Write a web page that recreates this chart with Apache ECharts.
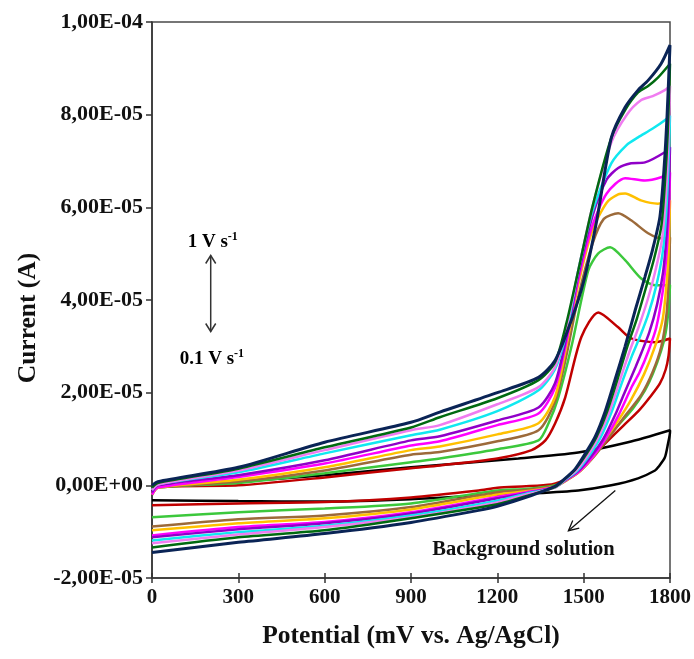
<!DOCTYPE html>
<html><head><meta charset="utf-8">
<script src="https://cdn.jsdelivr.net/npm/echarts@6/dist/echarts.min.js"></script>
<style>html,body{margin:0;padding:0;background:#fff}#c{width:694px;height:659px}</style>
</head><body><div id="c"></div>
<script>
// Current values in units of 1e-5 A, potential in mV
const xTicks = [0,300,600,900,1200,1500,1800];
const scanRates = ['0.1','0.2','0.3','0.4','0.5','0.6','0.7','0.8','0.9','1.0'];

const bg_fwd = [[0,-0.1],[20,-0.02],[300,0.08],[600,0.22],[900,0.39],[1273,0.58],[1481,0.71],[1654,0.93],[1800,1.19]];
const bg_rev = [[1800,1.15],[1793,0.9],[1782,0.6],[1760,0.4],[1748,0.32],[1689,0.15],[1596,0.0],[1481,-0.11],[1332,-0.17],[1200,-0.2],[900,-0.3],[600,-0.35],[300,-0.34],[0,-0.32]];

const r01_fwd = [[0,-0.15],[20,-0.03],[300,0.0],[600,0.17],[900,0.37],[1000,0.43],[1200,0.58],[1319,0.76],[1367,0.97],[1401,1.34],[1436,1.9],[1492,3.2],[1551,3.73],[1620,3.41],[1665,3.17],[1748,3.09],[1800,3.17]];
const r01_rev = [[1800,3.17],[1795,2.8],[1785,2.5],[1765,2.2],[1730,1.9],[1690,1.6],[1640,1.3],[1590,1.0],[1545,0.72],[1500,0.42],[1460,0.2],[1420,0.08],[1388,0.02],[1300,-0.02],[1200,-0.05],[1135,-0.11],[900,-0.26],[600,-0.36],[300,-0.39],[0,-0.43]];

const r02_fwd = [[0,-0.2],[20,-0.05],[300,0.05],[600,0.26],[900,0.5],[1000,0.58],[1200,0.78],[1343,0.97],[1378,1.34],[1412,1.9],[1457,2.98],[1516,4.64],[1550,5.0],[1592,5.14],[1644,4.86],[1699,4.47],[1748,4.32],[1800,4.32]];
const r02_rev = [[1800,4.32],[1795,3.8],[1785,3.3],[1769,2.9],[1740,2.4],[1713,2.05],[1670,1.65],[1620,1.3],[1570,0.95],[1527,0.65],[1481,0.35],[1445,0.15],[1400,0.0],[1300,-0.08],[1200,-0.11],[900,-0.39],[600,-0.5],[300,-0.58],[0,-0.69]];

const r03_fwd = [[0,-0.2],[20,-0.05],[300,0.08],[600,0.32],[900,0.66],[1000,0.72],[1200,0.95],[1343,1.19],[1400,1.8],[1440,2.8],[1481,4.06],[1530,5.2],[1570,5.75],[1620,5.87],[1665,5.72],[1724,5.44],[1770,5.33],[1800,5.35]];
const r03_rev = [[1800,5.35],[1795,4.4],[1788,3.7],[1770,3.0],[1740,2.45],[1700,1.95],[1644,1.5],[1590,1.05],[1540,0.65],[1490,0.32],[1444,0.12],[1400,-0.02],[1300,-0.1],[1200,-0.15],[900,-0.47],[600,-0.65],[300,-0.73],[0,-0.89]];

const r04_fwd = [[0,-0.2],[20,-0.05],[300,0.12],[600,0.39],[900,0.76],[1000,0.84],[1200,1.1],[1343,1.34],[1400,1.9],[1440,3.0],[1480,4.3],[1530,5.5],[1580,6.1],[1620,6.28],[1644,6.3],[1699,6.15],[1758,6.08],[1800,6.15]];
const r04_rev = [[1800,6.15],[1796,5.2],[1790,4.5],[1775,3.6],[1748,3.0],[1710,2.4],[1665,1.85],[1620,1.4],[1575,1.0],[1530,0.6],[1486,0.3],[1442,0.12],[1400,-0.03],[1300,-0.13],[1200,-0.2],[900,-0.52],[600,-0.71],[300,-0.82],[0,-0.97]];

const r05_fwd = [[0,-0.2],[20,-0.05],[300,0.18],[600,0.47],[900,0.86],[1000,0.95],[1200,1.3],[1343,1.55],[1400,2.1],[1440,3.1],[1480,4.4],[1530,5.6],[1580,6.3],[1644,6.63],[1713,6.58],[1769,6.65],[1800,6.75]];
const r05_rev = [[1800,6.75],[1796,5.9],[1788,5.0],[1775,4.2],[1752,3.4],[1725,2.9],[1695,2.45],[1665,2.1],[1620,1.5],[1575,1.0],[1530,0.6],[1484,0.3],[1440,0.12],[1400,-0.03],[1300,-0.15],[1200,-0.25],[900,-0.58],[600,-0.79],[300,-0.9],[0,-1.08]];

const r06_fwd = [[0,-0.15],[20,0.0],[300,0.22],[600,0.54],[900,0.97],[1000,1.06],[1200,1.4],[1343,1.68],[1400,2.2],[1440,3.2],[1480,4.5],[1530,5.8],[1580,6.6],[1620,6.85],[1665,6.95],[1713,6.97],[1782,7.19],[1800,7.3]];
const r06_rev = [[1800,7.3],[1795,6.2],[1788,5.4],[1776,4.6],[1755,3.9],[1728,3.3],[1700,2.85],[1680,2.55],[1642,2.0],[1608,1.5],[1568,1.0],[1525,0.62],[1480,0.3],[1438,0.12],[1400,-0.04],[1300,-0.17],[1200,-0.28],[900,-0.61],[600,-0.82],[300,-0.95],[0,-1.12]];

const r07_fwd = [[0,-0.1],[20,0.02],[300,0.28],[600,0.69],[900,1.08],[1000,1.2],[1200,1.6],[1343,2.05],[1400,2.5],[1440,3.3],[1480,4.6],[1530,5.9],[1596,6.95],[1650,7.35],[1689,7.51],[1740,7.7],[1782,7.88],[1800,7.98]];
const r07_rev = [[1800,7.98],[1794,6.8],[1786,5.8],[1774,5.0],[1752,4.3],[1725,3.7],[1695,3.2],[1668,2.8],[1632,2.2],[1598,1.6],[1560,1.05],[1520,0.65],[1478,0.32],[1436,0.12],[1400,-0.05],[1300,-0.18],[1200,-0.33],[900,-0.65],[600,-0.87],[300,-1.01],[0,-1.19]];

const r08_fwd = [[0,-0.1],[20,0.02],[300,0.32],[600,0.76],[900,1.19],[1000,1.3],[1200,1.75],[1343,2.12],[1400,2.55],[1440,3.4],[1480,4.6],[1530,6.0],[1596,7.4],[1650,8.0],[1699,8.31],[1740,8.4],[1782,8.53],[1800,8.62]];
const r08_rev = [[1800,8.62],[1793,7.2],[1785,6.2],[1772,5.3],[1748,4.6],[1722,4.0],[1690,3.4],[1660,2.9],[1625,2.25],[1590,1.6],[1552,1.05],[1515,0.66],[1475,0.33],[1434,0.12],[1400,-0.05],[1300,-0.2],[1200,-0.37],[900,-0.69],[600,-0.9],[300,-1.06],[0,-1.25]];

const r09_fwd = [[0,-0.05],[20,0.05],[300,0.36],[600,0.82],[900,1.25],[1000,1.47],[1200,1.88],[1343,2.27],[1400,2.65],[1440,3.5],[1480,4.6],[1530,6.0],[1596,7.5],[1644,8.1],[1689,8.48],[1724,8.62],[1758,8.8],[1800,9.1]];
const r09_rev = [[1800,9.1],[1792,7.6],[1782,6.5],[1770,5.6],[1745,4.9],[1718,4.3],[1685,3.6],[1652,3.0],[1618,2.3],[1582,1.6],[1545,1.05],[1510,0.68],[1472,0.35],[1432,0.12],[1400,-0.04],[1318,-0.2],[1200,-0.41],[900,-0.71],[600,-0.97],[300,-1.12],[0,-1.34]];

const r10_fwd = [[0,0.0],[20,0.08],[300,0.39],[600,0.93],[900,1.36],[1000,1.58],[1200,2.0],[1343,2.33],[1401,2.7],[1457,3.56],[1500,4.4],[1545,5.7],[1596,7.5],[1644,8.16],[1689,8.53],[1724,8.74],[1769,9.1],[1800,9.5]];
const r10_rev = [[1800,9.5],[1790,8.0],[1780,6.9],[1765,5.8],[1740,5.1],[1713,4.5],[1680,3.8],[1644,3.0],[1610,2.3],[1575,1.6],[1540,1.05],[1506,0.69],[1470,0.35],[1430,0.12],[1400,-0.02],[1318,-0.22],[1200,-0.45],[1135,-0.54],[900,-0.8],[600,-1.04],[300,-1.23],[0,-1.45]];

const curves = [
  {name:'Background solution', fwd:bg_fwd, rev:bg_rev, color:'#000000'},
  {name:scanRates[0], fwd:r01_fwd, rev:r01_rev, color:'#C00000'},
  {name:scanRates[1], fwd:r02_fwd, rev:r02_rev, color:'#3CC83C'},
  {name:scanRates[2], fwd:r03_fwd, rev:r03_rev, color:'#9C6A3A'},
  {name:scanRates[3], fwd:r04_fwd, rev:r04_rev, color:'#FFC000'},
  {name:scanRates[4], fwd:r05_fwd, rev:r05_rev, color:'#FF00FF'},
  {name:scanRates[5], fwd:r06_fwd, rev:r06_rev, color:'#9000C8'},
  {name:scanRates[6], fwd:r07_fwd, rev:r07_rev, color:'#10E8F0'},
  {name:scanRates[7], fwd:r08_fwd, rev:r08_rev, color:'#F07CF0'},
  {name:scanRates[8], fwd:r09_fwd, rev:r09_rev, color:'#006A10'},
  {name:scanRates[9], fwd:r10_fwd, rev:r10_rev, color:'#0A2456'}
];

function fmtY(v){
  const s = (v*1e-5).toExponential(2);
  let parts = s.split('e');
  let m = parts[0], e = parts[1];
  let sign = e[0]==='-' ? '-' : '+';
  let d = e.replace(/[-+]/,'');
  if (d.length<2) d='0'+d;
  return m.replace('.',',')+'E'+sign+d;
}

const FONT = '"Liberation Serif","Times New Roman",serif';
const chart = echarts.init(document.getElementById('c'), null, {renderer:'canvas'});
const option = {
  animation:false,
  backgroundColor:'#fff',
  grid:{left:152,right:22,top:22,bottom:81,show:true,borderColor:'#4a4a4a',borderWidth:1.5,backgroundColor:'transparent'},
  xAxis:[{
    type:'value',min:0,max:1800,interval:300,position:'bottom',
    name:'Potential (mV vs. Ag/AgCl)',nameLocation:'middle',nameGap:45,
    nameTextStyle:{fontFamily:FONT,fontWeight:'bold',fontSize:25.5,color:'#111'},
    axisLine:{show:true,onZero:false,lineStyle:{color:'#333',width:1.5}},
    axisTick:{show:true,inside:false,length:5,lineStyle:{color:'#333',width:1.5}},
    axisLabel:{fontFamily:FONT,fontWeight:'bold',fontSize:21,color:'#111',margin:9,
      formatter:function(v){return xTicks.indexOf(v)>=0? String(v):'';}},
    splitLine:{show:false}
  },{
    type:'value',min:0,max:1800,interval:300,position:'bottom',
    axisLine:{show:false,onZero:false},
    axisTick:{show:true,inside:true,length:5,lineStyle:{color:'#333',width:1.5}},
    axisLabel:{show:false},splitLine:{show:false}
  }],
  yAxis:{
    type:'value',min:-2,max:10,interval:2,
    axisLine:{show:true,onZero:false,lineStyle:{color:'#333',width:1.5}},
    axisTick:{show:true,inside:false,length:6,lineStyle:{color:'#333',width:1.5}},
    axisLabel:{fontFamily:FONT,fontWeight:'bold',fontSize:22,color:'#111',margin:9,formatter:fmtY},
    splitLine:{show:false}
  },
  series: curves.map(function(c,i){
    return {
      type:'line',name:c.name,xAxisIndex:0,
      data:c.fwd.concat(c.rev),
      showSymbol:false,smooth:0.25,
      lineStyle:{color:c.color,width:(i===10?3:2.5)},
      z:2+i
    };
  })
};
chart.setOption(option);

// Annotations placed in data coordinates
function px(p){return chart.convertToPixel({xAxisIndex:0,yAxisIndex:0},p);}
const a1 = px([211,5.25]), a2 = px([208,2.73]);
const arTop = px([204,4.96]), arBot = px([204,3.32]);
const bgText = px([1291,-1.4]);
const bgA = px([1610,-0.11]), bgB = px([1447,-0.98]);
function head(tip, from, len, w){
  const dx=tip[0]-from[0], dy=tip[1]-from[1]; const L=Math.sqrt(dx*dx+dy*dy);
  const ux=dx/L, uy=dy/L; const bx=tip[0]-ux*len, by=tip[1]-uy*len;
  return [[bx-uy*w,by+ux*w],[tip[0],tip[1]],[bx+uy*w,by-ux*w]];
}
const rich = {
  a:{fontFamily:FONT,fontWeight:'bold',fontSize:19,color:'#111',lineHeight:22},
  b:{fontFamily:FONT,fontWeight:'bold',fontSize:12,color:'#111',verticalAlign:'top',lineHeight:22,padding:[0,0,10,0]}
};
chart.setOption({graphic:[
  {type:'text',x:28,y:318,rotation:Math.PI/2,style:{text:'Current (A)',fontFamily:FONT,fontWeight:'bold',fontSize:25.5,fill:'#111',align:'center',verticalAlign:'middle'},z:50},
  {type:'text',x:a1[0],y:a1[1],style:{text:'{a|1 V s}{b|-1}',rich:rich,align:'center',verticalAlign:'middle'},z:50},
  {type:'text',x:a2[0],y:a2[1],style:{text:'{a|0.1 V s}{b|-1}',rich:rich,align:'center',verticalAlign:'middle'},z:50},
  {type:'polyline',shape:{points:[arTop,arBot]},style:{stroke:'#333',lineWidth:1.5},z:50},
  {type:'polyline',shape:{points:head(arTop,arBot,8,5)},style:{stroke:'#333',lineWidth:1.5,fill:null},z:50},
  {type:'polyline',shape:{points:head(arBot,arTop,8,5)},style:{stroke:'#333',lineWidth:1.5,fill:null},z:50},
  {type:'text',x:bgText[0],y:bgText[1],style:{text:'Background solution',fontFamily:FONT,fontWeight:'bold',fontSize:20.5,fill:'#111',align:'center',verticalAlign:'middle'},z:50},
  {type:'polyline',shape:{points:[bgA,bgB]},style:{stroke:'#111',lineWidth:1.3},z:50},
  {type:'polyline',shape:{points:head(bgB,bgA,10,5)},style:{stroke:'#111',lineWidth:1.3,fill:null},z:50}
]});
</script></body></html>
